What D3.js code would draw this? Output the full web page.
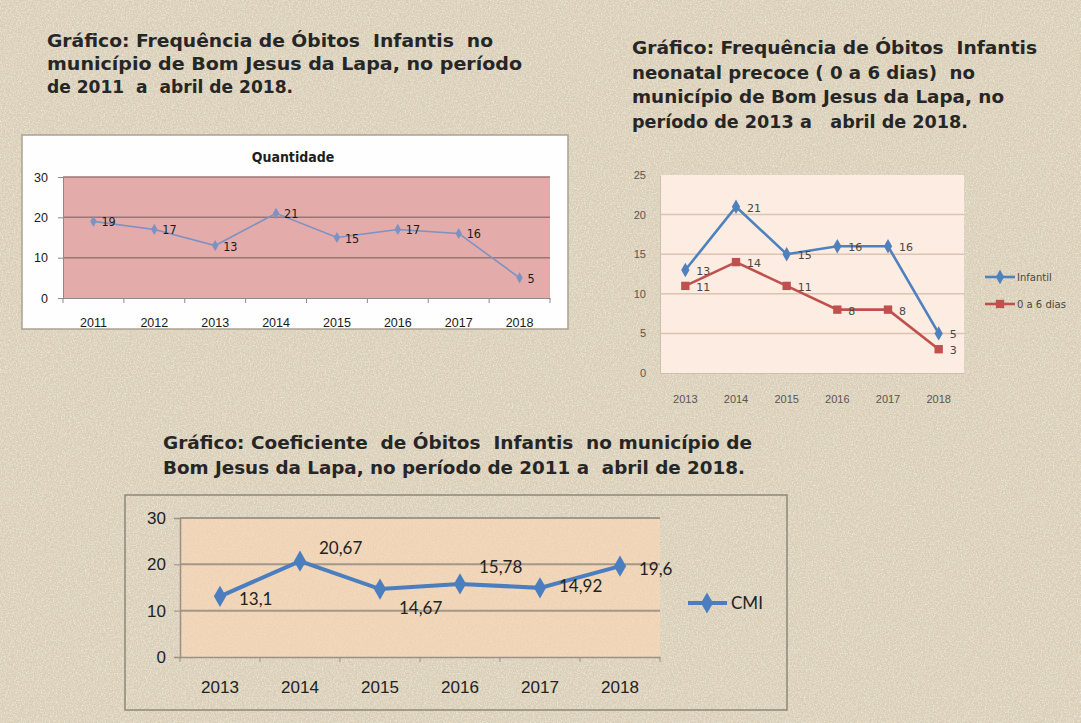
<!DOCTYPE html>
<html>
<head>
<meta charset="utf-8">
<script src="https://cdn.jsdelivr.net/npm/d3@7"></script>
<style>
  body { margin: 0; background: #dacfb7; }
  svg { display: block; }
</style>
</head>
<body>
<svg id="page" width="1081" height="723"></svg>
<script>
// --- data ---
const anos1 = ["2011", "2012", "2013", "2014", "2015", "2016", "2017", "2018"];
const quantidade = [19, 17, 13, 21, 15, 17, 16, 5];
const ticks1 = [0, 10, 20, 30];

const anos2 = ["2013", "2014", "2015", "2016", "2017", "2018"];
const infantil = [13, 21, 15, 16, 16, 5];
const neonatal = [11, 14, 11, 8, 8, 3];
const ticks2 = [0, 5, 10, 15, 20, 25];

const anos3 = ["2013", "2014", "2015", "2016", "2017", "2018"];
const cmi = [13.1, 20.67, 14.67, 15.78, 14.92, 19.6];
const ticks3 = [0, 10, 20, 30];

const titulo1 = [
  "Gráfico: Frequência de Óbitos  Infantis  no",
  "município de Bom Jesus da Lapa, no período",
  "de 2011  a  abril de 2018."
];
const titulo2 = [
  "Gráfico: Frequência de Óbitos  Infantis",
  "neonatal precoce ( 0 a 6 dias)  no",
  "município de Bom Jesus da Lapa, no",
  "período de 2013 a   abril de 2018."
];
const titulo3 = [
  "Gráfico: Coeficiente  de Óbitos  Infantis  no município de",
  "Bom Jesus da Lapa, no período de 2011 a  abril de 2018."
];

// width each title line takes on the page
const larg1 = [446, 475, 246];
const larg2 = [405, 343, 372, 336];
const larg3 = [589, 582];

// label nudges for the CMI chart (dy from the point)
const cmiLabelDy = [3, -13, 19, -17, -2, 3];

const fmtPt = d3.format(",.2~f");
const virgula = v => fmtPt(v).replace(".", ",");

const svg = d3.select("#page");

// --- textured paper background ---
const defs = svg.append("defs");
const f1 = defs.append("filter").attr("id", "grain").attr("x", 0).attr("y", 0).attr("width", "100%").attr("height", "100%");
f1.append("feTurbulence").attr("type", "fractalNoise").attr("baseFrequency", 0.75).attr("numOctaves", 2).attr("seed", 3);
f1.append("feColorMatrix").attr("type", "matrix")
  .attr("values", "0 0 0 0 0.96  0 0 0 0 0.93  0 0 0 0 0.86  1.4 0 0 0 -0.55");
const f2 = defs.append("filter").attr("id", "grainDark").attr("x", 0).attr("y", 0).attr("width", "100%").attr("height", "100%");
f2.append("feTurbulence").attr("type", "fractalNoise").attr("baseFrequency", 0.6).attr("numOctaves", 2).attr("seed", 11);
f2.append("feColorMatrix").attr("type", "matrix")
  .attr("values", "0 0 0 0 0.62  0 0 0 0 0.56  0 0 0 0 0.45  0 1.4 0 0 -0.6");

svg.append("rect").attr("width", 1081).attr("height", 723).attr("fill", "#dacfb7");
svg.append("rect").attr("width", 1081).attr("height", 723).attr("filter", "url(#grainDark)");
svg.append("rect").attr("width", 1081).attr("height", 723).attr("filter", "url(#grain)");

// --- titles ---
function drawTitle(lines, widths, x, y0, step) {
  svg.append("g").selectAll("text")
    .data(lines)
    .join("text")
    .attr("x", x)
    .attr("y", (d, i) => y0 + i * step)
    .attr("font-family", "'DejaVu Sans', Verdana, sans-serif")
    .attr("font-weight", "bold")
    .attr("font-size", 17.5)
    .attr("fill", "#262626")
    .attr("textLength", (d, i) => widths[i])
    .attr("lengthAdjust", "spacingAndGlyphs")
    .style("white-space", "pre")
    .text(d => d);
}
drawTitle(titulo1, larg1, 47, 47, 23);
drawTitle(titulo2, larg2, 632, 54, 24.5);
drawTitle(titulo3, larg3, 163, 449, 25);

// ============ Chart 1: Quantidade ============
{
  svg.append("rect").attr("x", 22).attr("y", 135).attr("width", 546).attr("height", 194)
    .attr("fill", "#fefefe").attr("stroke", "#a9a292").attr("stroke-width", 1.5);

  const x = d3.scaleBand().domain(anos1).range([63, 550]);
  const y = d3.scaleLinear().domain([0, 30]).range([298, 177]);
  const g = svg.append("g").attr("font-family", "'DejaVu Sans Condensed', sans-serif");

  g.append("rect").attr("x", 63).attr("y", y(30)).attr("width", 487).attr("height", y(0) - y(30))
    .attr("fill", "#e3acab");
  g.selectAll("line.grid").data(ticks1.slice(1)).join("line")
    .attr("x1", 63).attr("x2", 550).attr("y1", d => y(d)).attr("y2", d => y(d))
    .attr("stroke", "#9c7474").attr("stroke-width", 1.5);

  const ya = g.append("g").attr("transform", "translate(63,0)")
    .call(d3.axisLeft(y).tickValues(ticks1).tickSize(5).tickPadding(10));
  ya.select(".domain").attr("stroke", "#8a8a8a");
  ya.selectAll(".tick line").attr("stroke", "#8a8a8a");
  ya.selectAll("text").attr("font-size", 12.5).attr("fill", "#1a1a1a");

  const xa = g.append("g").attr("transform", `translate(0,${y(0)})`)
    .call(d3.axisBottom(x).tickSize(0).tickPadding(20));
  xa.select(".domain").attr("stroke", "#8a8a8a");
  xa.selectAll("text").attr("font-size", 12.5).attr("fill", "#1a1a1a");
  g.selectAll("line.xt").data(anos1.concat(["end"])).join("line")
    .attr("x1", (d, i) => 63 + i * x.step()).attr("x2", (d, i) => 63 + i * x.step())
    .attr("y1", y(0)).attr("y2", y(0) + 5).attr("stroke", "#8a8a8a");

  g.append("text").attr("x", 293).attr("y", 162).attr("text-anchor", "middle")
    .attr("font-size", 14).attr("font-weight", "bold").attr("fill", "#1e1e1e")
    .text("Quantidade");

  const cx = (d, i) => x(anos1[i]) + x.bandwidth() / 2;
  g.append("path").datum(quantidade)
    .attr("fill", "none").attr("stroke", "#7d92c2").attr("stroke-width", 1.6)
    .attr("d", d3.line().x(cx).y(d => y(d)));
  g.selectAll("path.mk").data(quantidade).join("path")
    .attr("transform", (d, i) => `translate(${cx(d, i)},${y(d)})`)
    .attr("d", d3.symbol(d3.symbolDiamond, 36))
    .attr("fill", "#7d92c2");
  g.selectAll("text.lb").data(quantidade).join("text")
    .attr("x", (d, i) => cx(d, i) + 8).attr("y", d => y(d) + 5)
    .attr("font-size", 12.5).attr("fill", "#1a1a1a")
    .text(d => d);
}

// ============ Chart 2: Infantil / 0 a 6 dias ============
{
  const x = d3.scaleBand().domain(anos2).range([660, 964]);
  const y = d3.scaleLinear().domain([0, 25]).range([373, 175]);
  const g = svg.append("g").attr("font-family", "'DejaVu Sans', sans-serif");

  g.append("rect").attr("x", 660).attr("y", y(25)).attr("width", 304).attr("height", y(0) - y(25))
    .attr("fill", "#fcece2");
  g.selectAll("line.grid").data(ticks2.slice(1, -1)).join("line")
    .attr("x1", 660).attr("x2", 964).attr("y1", d => y(d)).attr("y2", d => y(d))
    .attr("stroke", "#dcc3b2").attr("stroke-width", 1.5);

  const ya = g.append("g").attr("transform", "translate(660,0)")
    .call(d3.axisLeft(y).tickValues(ticks2).tickSize(0).tickPadding(14));
  ya.select(".domain").attr("stroke", "#cdbfae");
  ya.selectAll("text").attr("font-size", 11).attr("fill", "#5a5550");

  const xa = g.append("g").attr("transform", `translate(0,${y(0)})`)
    .call(d3.axisBottom(x).tickSize(0).tickPadding(22));
  xa.select(".domain").attr("stroke", "#cdbfae");
  xa.selectAll("text").attr("font-size", 11).attr("fill", "#5a5550");

  const cx = (d, i) => x(anos2[i]) + x.bandwidth() / 2;
  const series = [
    { name: "Infantil", values: infantil, color: "#4f81bd", sym: d3.symbolDiamond, size: 60 },
    { name: "0 a 6 dias", values: neonatal, color: "#c0504d", sym: d3.symbolSquare, size: 70 }
  ];
  series.forEach((s, k) => {
    g.append("path").datum(s.values)
      .attr("fill", "none").attr("stroke", s.color).attr("stroke-width", 2.6)
      .attr("d", d3.line().x(cx).y(d => y(d)));
    g.selectAll(null).data(s.values).join("path")
      .attr("transform", (d, i) => `translate(${cx(d, i)},${y(d)})`)
      .attr("d", d3.symbol(s.sym, s.size))
      .attr("fill", s.color);
    g.selectAll(null).data(s.values).join("text")
      .attr("x", (d, i) => cx(d, i) + 11).attr("y", d => y(d) + 5)
      .attr("font-size", 11).attr("fill", "#4a4640")
      .text(d => d);

    const ly = 277 + k * 27;
    g.append("line").attr("x1", 985).attr("x2", 1015).attr("y1", ly).attr("y2", ly)
      .attr("stroke", s.color).attr("stroke-width", 2.6);
    g.append("path").attr("transform", `translate(1000,${ly})`)
      .attr("d", d3.symbol(s.sym, s.size)).attr("fill", s.color);
    g.append("text").attr("x", 1017).attr("y", ly + 4)
      .attr("font-size", 10).attr("fill", "#4a4640").text(s.name);
  });
}

// ============ Chart 3: CMI ============
{
  svg.append("rect").attr("x", 125).attr("y", 495).attr("width", 662).attr("height", 215)
    .attr("fill", "none").attr("stroke", "#8f8878").attr("stroke-width", 1.5);

  const x = d3.scaleBand().domain(anos3).range([180, 660]);
  const y = d3.scaleLinear().domain([0, 30]).range([657, 518]);
  const g = svg.append("g").attr("font-family", "Lato, 'Open Sans', sans-serif");

  g.append("rect").attr("x", 180).attr("y", y(30)).attr("width", 480).attr("height", y(0) - y(30))
    .attr("fill", "#fad6b3").attr("opacity", 0.65);
  g.selectAll("line.grid").data(ticks3.slice(1)).join("line")
    .attr("x1", 180).attr("x2", 660).attr("y1", d => y(d)).attr("y2", d => y(d))
    .attr("stroke", "#a3978a").attr("stroke-width", 2);

  const ya = g.append("g").attr("transform", "translate(180,0)")
    .call(d3.axisLeft(y).tickValues(ticks3).tickSize(6).tickPadding(8));
  ya.select(".domain").attr("stroke", "#9a9186").attr("stroke-width", 1.5);
  ya.selectAll(".tick line").attr("stroke", "#9a9186");
  ya.selectAll("text").attr("font-size", 17).attr("fill", "#222");

  const xa = g.append("g").attr("transform", `translate(0,${y(0)})`)
    .call(d3.axisBottom(x).tickSize(0).tickPadding(24));
  xa.select(".domain").attr("stroke", "#9a9186").attr("stroke-width", 1.5);
  xa.selectAll("text").attr("font-size", 17).attr("fill", "#222");
  g.selectAll("line.xt").data(anos3.concat(["end"])).join("line")
    .attr("x1", (d, i) => 180 + i * x.step()).attr("x2", (d, i) => 180 + i * x.step())
    .attr("y1", y(0)).attr("y2", y(0) + 5).attr("stroke", "#9a9186");

  const cx = (d, i) => x(anos3[i]) + x.bandwidth() / 2;
  g.append("path").datum(cmi)
    .attr("fill", "none").attr("stroke", "#4a7ebf").attr("stroke-width", 4)
    .attr("d", d3.line().x(cx).y(d => y(d)));
  g.selectAll("path.mk").data(cmi).join("path")
    .attr("transform", (d, i) => `translate(${cx(d, i)},${y(d)})`)
    .attr("d", d3.symbol(d3.symbolDiamond, 130))
    .attr("fill", "#4a7ebf");
  g.selectAll("text.lb").data(cmi).join("text")
    .attr("x", (d, i) => cx(d, i) + 19).attr("y", (d, i) => y(d) + cmiLabelDy[i] + 6)
    .attr("font-size", 17).attr("fill", "#222")
    .text(d => virgula(d));

  g.append("line").attr("x1", 688).attr("x2", 727).attr("y1", 603).attr("y2", 603)
    .attr("stroke", "#4a7ebf").attr("stroke-width", 4);
  g.append("path").attr("transform", "translate(707,603)")
    .attr("d", d3.symbol(d3.symbolDiamond, 130)).attr("fill", "#4a7ebf");
  g.append("text").attr("x", 731).attr("y", 609).attr("font-size", 17).attr("fill", "#222").text("CMI");
}
</script>
</body>
</html>
